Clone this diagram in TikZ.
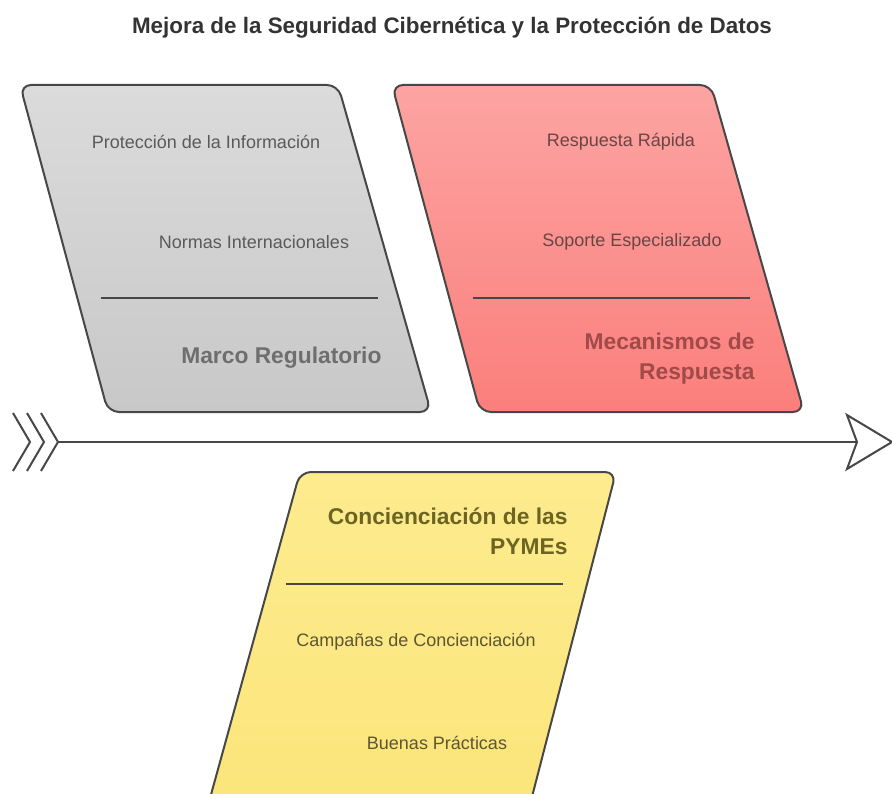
\documentclass[tikz,border=0pt]{standalone}
\usepackage{fontspec}
\setmainfont{Liberation Sans}
\usetikzlibrary{positioning}
\definecolor{edge}{HTML}{474747}
\definecolor{greytop}{HTML}{DBDBDB}
\definecolor{greybot}{HTML}{C8C8C8}
\definecolor{redtop}{HTML}{FCA4A2}
\definecolor{redbot}{HTML}{FB7F7C}
\definecolor{yeltop}{HTML}{FDEB8E}
\definecolor{yelbot}{HTML}{FBE57A}
\definecolor{greytxt}{HTML}{5A5A5A}
\definecolor{greyhead}{HTML}{6E6E6E}
\definecolor{redtxt}{HTML}{694545}
\definecolor{redhead}{HTML}{A14A4A}
\definecolor{yeltxt}{HTML}{5C5632}
\definecolor{yelhead}{HTML}{6B6422}

\begin{document}
\begin{tikzpicture}[x=1pt,y=-1pt,
    item/.style={font=\fontsize{18}{21}\selectfont, text=#1},
    head/.style={font=\fontsize{22.8}{30}\selectfont\bfseries, align=right, anchor=east, text=#1},
    box/.style={draw=edge, line width=2pt, rounded corners=11pt},
    rule/.style={draw=edge, line width=2pt}]
    \useasboundingbox (0,0) rectangle (892,794);
    \node[font=\fontsize{22.4}{26}\selectfont\bfseries, text=black!80] (title) at (452,28) {Mejora de la Seguridad Cibernética y la Protección de Datos};

    \shade[box, top color=greytop, bottom color=greybot] (20,85) -- (338,85) -- (431,412) -- (108,412) -- cycle;
    \shade[box, top color=redtop, bottom color=redbot] (392,85) -- (711,85) -- (804,412) -- (480,412) -- cycle;
    \shade[box, top color=yeltop, bottom color=yelbot] (300,472) -- (616,472) -- (526,820) -- (204,820) -- cycle;

    \node[item=greytxt] (info) at (206,142) {Protección de la Información};
    \node[item=greytxt] (normas) at (254,242) {Normas Internacionales};
    \draw[rule] (101,298) -- (378,298);
    \node[head=greyhead] (marco) at (385,358) {Marco Regulatorio};

    \node[item=redtxt] (rapida) at (621,142) {Respuesta Rápida};
    \node[item=redtxt] (soporte) at (632,242) {Soporte Especializado};
    \draw[rule] (473,298) -- (750,298);
    \node[head=redhead] (mecanismos) at (758,359) {Mecanismos de\\Respuesta};

    \node[head=yelhead] (pymes) at (571,531) {Concienciación de las\\PYMEs};
    \draw[rule] (286,584) -- (563,584);
    \node[item=yeltxt] (campanas) at (416,642) {Campañas de Concienciación};
    \node[item=yeltxt] (buenas) at (437,743) {Buenas Prácticas};

    \coordinate (tail) at (58,442);
    \coordinate (notch) at (857,442);
    \draw[rule] (tail) -- (notch);
    \foreach \x in {30,44,58}
        \draw[rule] (\x-17,413) -- (\x,442) -- (\x-17,471);
    \draw[rule, fill=white, line join=miter] (notch) -- (847,415) -- (892,442) -- (847,469) -- cycle;
\end{tikzpicture}
\end{document}
